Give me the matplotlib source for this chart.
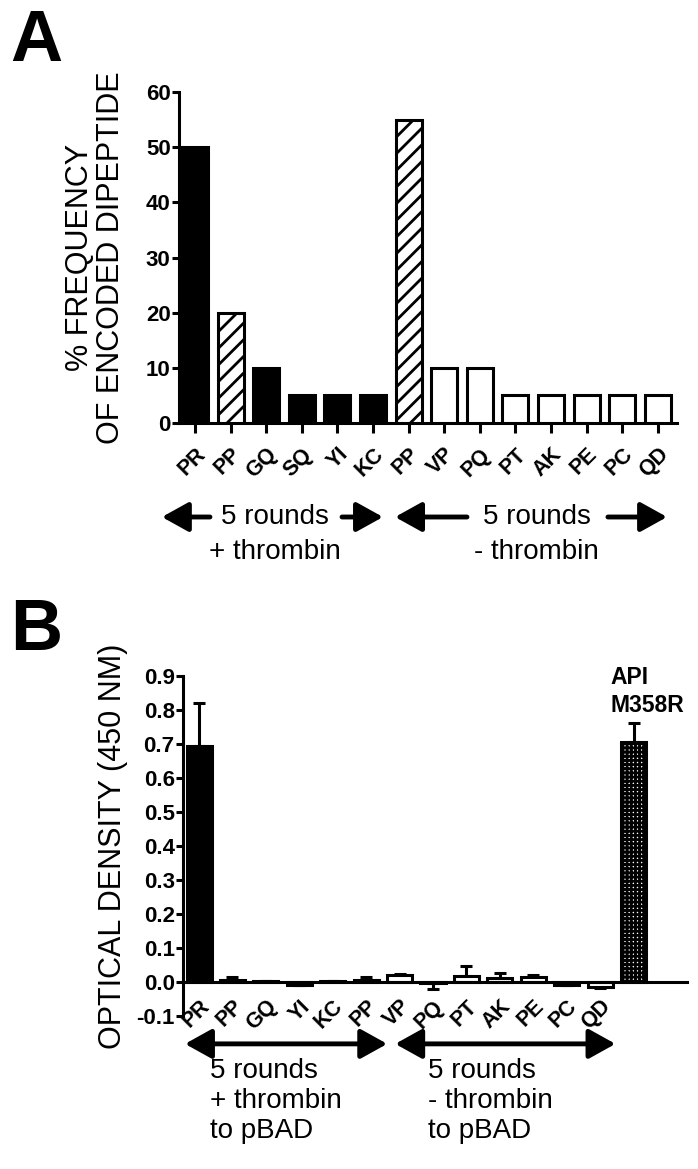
import numpy as np
import matplotlib as mpl
mpl.use('Agg')
import matplotlib.pyplot as plt
from matplotlib import font_manager

# ---- data -------------------------------------------------------------
a_labels = ['PR', 'PP', 'GQ', 'SQ', 'YI', 'KC', 'PP', 'VP', 'PQ', 'PT', 'AK', 'PE', 'PC', 'QD']
a_values = [50, 20, 10, 5, 5, 5, 55, 10, 10, 5, 5, 5, 5, 5]
a_style = ['solid', 'hatch', 'solid', 'solid', 'solid', 'solid', 'hatch',
           'open', 'open', 'open', 'open', 'open', 'open', 'open']

b_labels = ['PR', 'PP', 'GQ', 'YI', 'KC', 'PP', 'VP', 'PQ', 'PT', 'AK', 'PE', 'PC', 'QD', '']
b_values = [0.695, 0.005, 0.002, -0.008, 0.003, 0.005, 0.020, -0.003, 0.018, 0.012, 0.016, -0.010, -0.015, 0.705]
b_err_up = [0.125, 0.011, 0.0, 0.0, 0.0, 0.011, 0.003, 0.0, 0.028, 0.015, 0.004, 0.0, 0.0, 0.057]
b_err_dn = [0.0, 0.0, 0.0, 0.0, 0.0, 0.0, 0.0, 0.019, 0.0, 0.0, 0.0, 0.0, 0.003, 0.0]
b_style = ['solid'] + ['open'] * 12 + ['check']

# ---- fonts ------------------------------------------------------------
names = {f.name for f in font_manager.fontManager.ttflist}
narrow = 'Liberation Sans Narrow' if 'Liberation Sans Narrow' in names else 'Liberation Sans'
mpl.rc('font', family='Liberation Sans')
mpl.rc('axes', unicode_minus=False, linewidth=2.2)
mpl.rc('hatch', linewidth=2.0, color='black')

LW = 2.2


def style_bar(p, kind):
    if kind == 'solid':
        p.set_facecolor('black')
    elif kind == 'hatch':
        p.set_facecolor('white')
        p.set_hatch('//')
    elif kind == 'check':
        p.set_facecolor('white')
        p.set_hatch('++++')
    else:
        p.set_facecolor('white')
    p.set_edgecolor('black')
    p.set_linewidth(LW)


fig = plt.figure(figsize=(6.98, 11.69), dpi=100)
W, H = 698.0, 1169.0

# ======================= panel A =======================================
axA = fig.add_axes([179 / W, 1 - 423 / H, (677 - 179) / W, (423 - 92) / H])
xa = np.arange(len(a_labels))
bars = axA.bar(xa, a_values, width=0.73, zorder=3)
for p, k in zip(bars, a_style):
    style_bar(p, k)
axA.set_xlim(-0.45, 13.54)
axA.set_ylim(0, 60)
axA.set_yticks(np.arange(0, 61, 10))
axA.set_xticks(xa)
axA.set_xticklabels(a_labels, rotation=45, ha='right', rotation_mode='anchor',
                    fontsize=15.5, fontweight='bold')
axA.tick_params(axis='x', length=7, width=LW, pad=8)
axA.tick_params(axis='y', length=5, width=LW, pad=1)
for t in axA.get_yticklabels():
    t.set_fontsize(16)
    t.set_fontweight('bold')
    t.set_family(narrow)
for s in ['top', 'right']:
    axA.spines[s].set_visible(False)
axA.set_ylabel('% FREQUENCY\nOF ENCODED DIPEPTIDE', fontsize=22, linespacing=1.05, labelpad=14)

ta = axA.get_xaxis_transform()
arrow = dict(arrowstyle='-|>,head_length=0.9,head_width=0.5', lw=3.5, color='black',
             mutation_scale=18, shrinkA=0, shrinkB=0)
for x0, x1 in [(0.42, -0.93), (4.13, 5.28), (7.64, 5.62), (11.6, 13.26)]:
    axA.annotate('', xy=(x1, -0.284), xytext=(x0, -0.284), xycoords=ta,
                 textcoords=ta, arrowprops=arrow, annotation_clip=False)
axA.text(2.25, -0.284, '5 rounds', transform=ta, ha='center', va='center', fontsize=20)
axA.text(2.25, -0.39, '+ thrombin', transform=ta, ha='center', va='center', fontsize=20)
axA.text(9.6, -0.284, '5 rounds', transform=ta, ha='center', va='center', fontsize=20)
axA.text(9.6, -0.39, '- thrombin', transform=ta, ha='center', va='center', fontsize=20)

fig.text(10 / W, 1 - 8 / H, 'A', fontsize=52, fontweight='bold', va='top', ha='left')

# ======================= panel B =======================================
axB = fig.add_axes([183 / W, 1 - 1016 / H, (687 - 183) / W, 340 / H])
xb = np.arange(len(b_labels))
bars = axB.bar(xb, b_values, width=0.75, zorder=3)
for p, k in zip(bars, b_style):
    style_bar(p, k)
axB.errorbar(xb, b_values, yerr=[b_err_dn, b_err_up], fmt='none', ecolor='black',
             elinewidth=LW, capsize=4.5, capthick=LW, zorder=2)
axB.set_xlim(-0.48, 14.6)
axB.set_ylim(-0.1, 0.9)
axB.set_yticks(np.round(np.arange(-0.1, 0.91, 0.1), 1))
axB.yaxis.set_major_formatter(mpl.ticker.FormatStrFormatter('%.1f'))
axB.spines['bottom'].set_position(('data', 0))
axB.spines['bottom'].set_zorder(4)
for s in ['top', 'right']:
    axB.spines[s].set_visible(False)
axB.set_xticks(xb)
axB.set_xticklabels(b_labels, rotation=45, ha='right', rotation_mode='anchor',
                    fontsize=15.5, fontweight='bold')
axB.tick_params(axis='x', length=0, pad=10)
axB.tick_params(axis='y', length=5, width=LW, pad=1)
for t in axB.get_yticklabels():
    t.set_fontsize(16)
    t.set_fontweight('bold')
    t.set_family(narrow)
axB.set_ylabel('OPTICAL DENSITY (450 NM)', fontsize=22, labelpad=6)

axB.text(12.3, 0.855, 'API\nM358R', ha='left', va='center', fontsize=16.5,
         fontweight='bold', linespacing=1.25)

tb = axB.get_xaxis_transform()
for x0, x1 in [(-0.42, 5.63), (5.87, 12.46)]:
    axB.annotate('', xy=(x1, -0.082), xytext=(x0, -0.082), xycoords=tb, textcoords=tb,
                 arrowprops=dict(arrowstyle='<|-|>,head_length=0.9,head_width=0.5', lw=3.5,
                                 color='black', mutation_scale=18, shrinkA=0, shrinkB=0),
                 annotation_clip=False)
axB.text(0.33, -0.125, '5 rounds\n+ thrombin\nto pBAD', transform=tb, ha='left', va='top',
         fontsize=20, linespacing=1.2)
axB.text(6.86, -0.125, '5 rounds\n- thrombin\nto pBAD', transform=tb, ha='left', va='top',
         fontsize=20, linespacing=1.2)

fig.text(10 / W, 1 - 597 / H, 'B', fontsize=52, fontweight='bold', va='top', ha='left')

fig.savefig('out.png', dpi=100)
